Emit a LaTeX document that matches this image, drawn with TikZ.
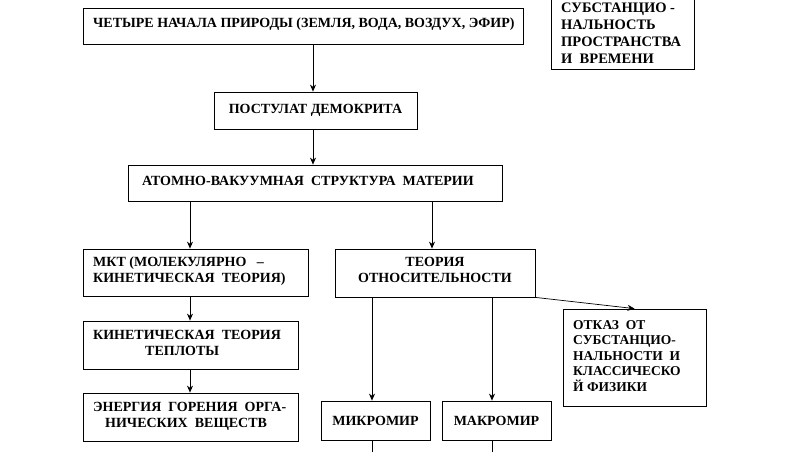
\documentclass[tikz,border=0pt]{standalone}
\usepackage{fontspec}
\setmainfont{Liberation Serif}
\usetikzlibrary{arrows.meta}
\begin{document}
\begin{tikzpicture}[x=1pt,y=-1pt,
  bx/.style={draw,line width=0.8pt},
  tx/.style={font=\bfseries\fontsize{14}{16}\selectfont,align=left,inner sep=0},
  arr/.style={-{Stealth[length=7pt,width=6pt]},line width=0.7pt}]
\useasboundingbox (0,0) rectangle (795,451);
\begin{scope}
\clip (0,0) rectangle (795,451);
\draw[bx] (83,8) rectangle (523,44) coordinate (b1);
\node[tx,anchor=west] (t1) at (93,24) {ЧЕТЫРЕ НАЧАЛА ПРИРОДЫ (ЗЕМЛЯ, ВОДА, ВОЗДУХ, ЭФИР)};
\draw[bx] (551,-5) rectangle (694,69);
\begin{scope}
\clip (551,0) rectangle (694,66);
\node[tx,anchor=north west,font=\bfseries\fontsize{14.5}{16.8}\selectfont] (t2) at (561,3) {СУБСТАНЦИО -\\НАЛЬНОСТЬ\\ПРОСТРАНСТВА\\И\ \ ВРЕМЕНИ};
\end{scope}
\node[bx,minimum width=203,minimum height=37,inner sep=0] (n3) at (315.5,110.5) {};
\node[tx] at (n3) {ПОСТУЛАТ ДЕМОКРИТА};
\node[bx,minimum width=374,minimum height=36,inner sep=0] (n4) at (315,183) {};
\node[tx,anchor=west] at (142,181) {АТОМНО-ВАКУУМНАЯ\ \ СТРУКТУРА\ \ МАТЕРИИ};
\node[bx,minimum width=225,minimum height=47,inner sep=0] (n5) at (195.5,272.5) {};
\node[tx,anchor=west] at (93,271) {МКТ (МОЛЕКУЛЯРНО\ \ \ –\\КИНЕТИЧЕСКАЯ\ \ ТЕОРИЯ)};
\node[bx,minimum width=200,minimum height=48,inner sep=0] (n6) at (435,273) {};
\node[tx,align=center] at (435,270) {ТЕОРИЯ\\ОТНОСИТЕЛЬНОСТИ};
\node[bx,minimum width=215,minimum height=48,inner sep=0] (n7) at (190.5,345) {};
\node[tx,anchor=west] at (93,343) {КИНЕТИЧЕСКАЯ\ \ ТЕОРИЯ\\\hspace*{52pt}ТЕПЛОТЫ};
\node[bx,minimum width=215,minimum height=48,inner sep=0] (n8) at (190.5,417) {};
\node[tx,anchor=west] at (93,416) {ЭНЕРГИЯ\ \ ГОРЕНИЯ\ \ ОРГА-\\\hspace*{12pt}НИЧЕСКИХ\ \ ВЕЩЕСТВ};
\node[bx,minimum width=143,minimum height=97,inner sep=0] (n9) at (634.5,357.5) {};
\node[tx,anchor=west,font=\bfseries\fontsize{13.5}{15.5}\selectfont] at (573,356) {ОТКАЗ\ \ ОТ\\СУБСТАНЦИО-\\НАЛЬНОСТИ\ \ И\\КЛАССИЧЕСКО\\Й ФИЗИКИ};
\node[bx,minimum width=109,minimum height=39,inner sep=0] (n10) at (375.5,420.5) {};
\node[tx] at (n10) {МИКРОМИР};
\node[bx,minimum width=109,minimum height=39,inner sep=0] (n11) at (496.5,420.5) {};
\node[tx] at (n11) {МАКРОМИР};
\coordinate (c1) at (313,44);
\draw[arr] (c1) -- (n3.north -| c1);
\draw[arr] (n3.south -| c1) -- (n4.north -| c1);
\coordinate (c2) at (190,0);
\draw[arr] (n4.south -| c2) -- (n5.north -| c2);
\draw[arr] (n5.south -| c2) -- (n7.north -| c2);
\draw[arr] (n7.south -| c2) -- (n8.north -| c2);
\coordinate (c3) at (432,0);
\draw[arr] (n4.south -| c3) -- (n6.north -| c3);
\coordinate (c4) at (372,0);
\coordinate (c5) at (492,0);
\draw[arr] (n6.south -| c4) -- (n10.north -| c4);
\draw[arr] (n6.south -| c5) -- (n11.north -| c5);
\draw[arr] (n6.south east) -- (n9.north);
\coordinate (e1) at (372,460);
\coordinate (e2) at (492,460);
\draw[line width=0.7pt] (n10.south -| c4) -- (e1);
\draw[line width=0.7pt] (n11.south -| c5) -- (e2);
\end{scope}
\end{tikzpicture}
\end{document}
